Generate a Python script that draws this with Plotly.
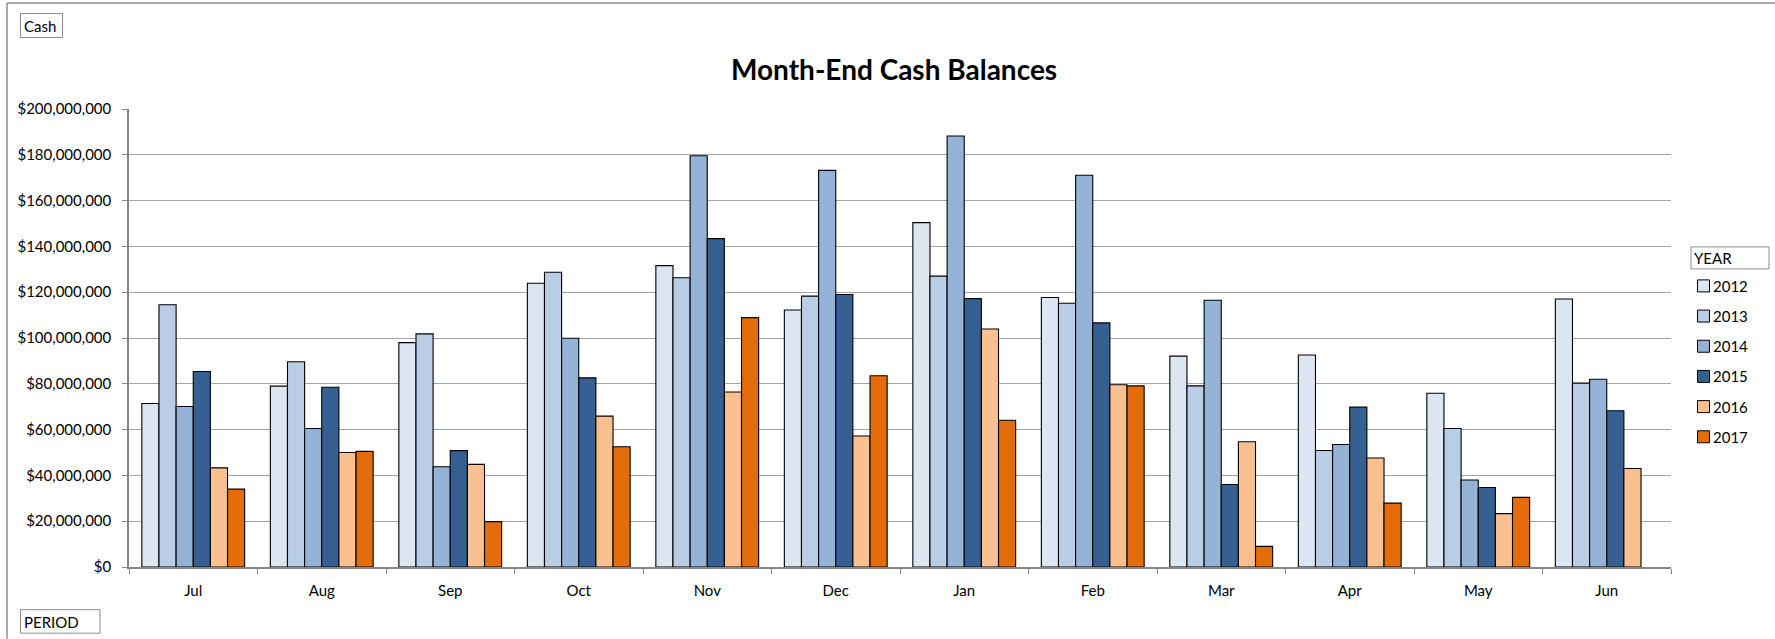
import plotly.graph_objects as go

months = ["Jul", "Aug", "Sep", "Oct", "Nov", "Dec", "Jan", "Feb", "Mar", "Apr", "May", "Jun"]
years = ["2012", "2013", "2014", "2015", "2016", "2017"]

# values in millions of dollars
v2012 = [71.4, 79.0, 98.0, 123.9, 131.6, 112.2, 150.4, 117.7, 92.1, 92.6, 75.9, 117.0]
v2013 = [114.5, 89.6, 101.8, 128.7, 126.3, 118.3, 127.0, 115.2, 79.1, 50.9, 60.5, 80.3]
v2014 = [70.1, 60.5, 43.8, 99.9, 179.6, 173.2, 188.2, 171.1, 116.5, 53.5, 38.0, 82.0]
v2015 = [85.4, 78.5, 50.8, 82.6, 143.4, 119.0, 117.2, 106.6, 36.0, 69.8, 34.7, 68.2]
v2016 = [43.3, 50.0, 44.8, 65.9, 76.4, 57.2, 103.9, 79.6, 54.7, 47.6, 23.3, 43.0]
v2017 = [34.0, 50.5, 19.8, 52.5, 108.9, 83.5, 64.1, 79.1, 9.0, 27.9, 30.4, None]

series = [v2012, v2013, v2014, v2015, v2016, v2017]
colors = ["#DCE6F2", "#B9CDE5", "#95B3D7", "#366092", "#FAC090", "#E46C0A"]

W, H = 1775, 639
L, R, T, B = 129, 1671, 109, 567.3
pw, ph = R - L, B - T

def px(x):
    return (x - L) / pw

def py(y):
    return (B - y) / ph

fig = go.Figure()
for yr, vals, c in zip(years, series, colors):
    fig.add_trace(go.Bar(
        x=months,
        y=[v * 1e6 if v is not None else None for v in vals],
        name=yr,
        marker=dict(color=c, line=dict(color="#000000", width=1.1)),
        showlegend=False,
    ))

FONT = "Lato"
fig.update_layout(
    width=W, height=H,
    margin=dict(l=L, r=W - R, t=T, b=H - B, autoexpand=False),
    paper_bgcolor="white", plot_bgcolor="white",
    barmode="group", bargap=0.2, bargroupgap=0,
    font=dict(family=FONT, size=15, color="#000000"),
    xaxis=dict(
        showline=True, linecolor="#868686", linewidth=1.5,
        ticks="outside", ticklen=5, tickcolor="#868686", tickwidth=1.2,
        tickson="boundaries", showgrid=False, ticklabelstandoff=9,
        tickfont=dict(family=FONT, size=15, color="#000000"),
    ),
    yaxis=dict(
        range=[0, 200e6], dtick=20e6, tickformat="$,.0f",
        showline=True, linecolor="#868686", linewidth=1.5,
        ticks="outside", ticklen=5, tickcolor="#868686", tickwidth=1.2,
        showgrid=True, gridcolor="#A6A6A6", gridwidth=1.2,
        zeroline=False, ticklabelstandoff=8,
        tickfont=dict(family=FONT, size=15, color="#000000"),
    ),
)

shapes = []
# outer chart border (top and left)
shapes.append(dict(type="line", xref="paper", yref="paper",
                   x0=px(7), x1=px(W), y0=py(3), y1=py(3),
                   line=dict(color="#8C8C8C", width=1.5)))
shapes.append(dict(type="line", xref="paper", yref="paper",
                   x0=px(7), x1=px(7), y0=py(3), y1=py(H),
                   line=dict(color="#8C8C8C", width=1.5)))
# field button boxes
for (x0, y0, x1, y1) in [(20.5, 13.5, 62.5, 37.5), (20.5, 610, 100, 633.5), (1691, 247, 1769, 269)]:
    shapes.append(dict(type="rect", xref="paper", yref="paper",
                       x0=px(x0), x1=px(x1), y0=py(y0), y1=py(y1),
                       line=dict(color="#8C8C8C", width=1), fillcolor="rgba(0,0,0,0)"))

ann = []
ann.append(dict(text="<b>Month-End Cash Balances</b>", xref="paper", yref="paper",
                x=px(894), y=py(69), xanchor="center", yanchor="middle",
                showarrow=False, font=dict(family=FONT, size=28, color="#000000")))
for txt, x, y in [("Cash", 21.5, 25.5), ("PERIOD", 21.5, 622), ("YEAR", 1692, 258)]:
    ann.append(dict(text=txt, xref="paper", yref="paper", x=px(x), y=py(y),
                    xanchor="left", yanchor="middle", showarrow=False,
                    font=dict(family=FONT, size=15, color="#000000")))

# legend (square swatches + labels)
for i, (yr, c) in enumerate(zip(years, colors)):
    cy = 286 + 30.2 * i
    shapes.append(dict(type="rect", xref="paper", yref="paper",
                       x0=px(1697.5), x1=px(1709.5), y0=py(cy - 6), y1=py(cy + 6),
                       line=dict(color="#000000", width=1), fillcolor=c))
    ann.append(dict(text=yr, xref="paper", yref="paper", x=px(1711), y=py(cy),
                    xanchor="left", yanchor="middle", showarrow=False,
                    font=dict(family=FONT, size=15, color="#000000")))

fig.update_layout(shapes=shapes, annotations=ann)

fig.write_html("out.html", config={"displayModeBar": False},
               post_script="document.body.style.margin='0';document.body.style.overflow='hidden';")
